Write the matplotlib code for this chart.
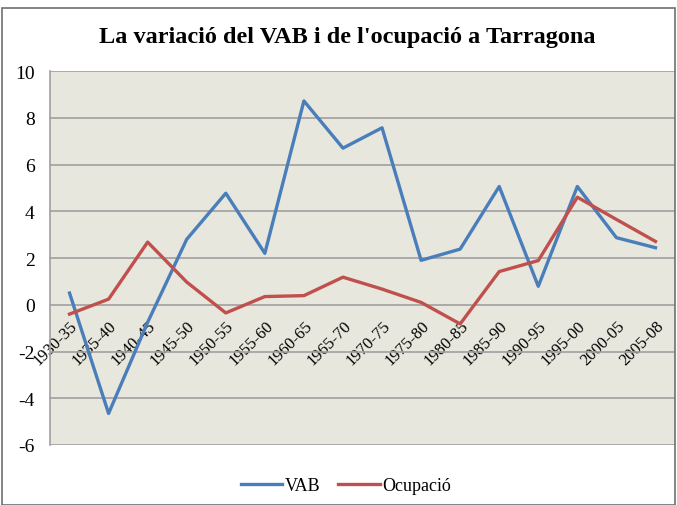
import matplotlib
matplotlib.use("Agg")
import matplotlib.pyplot as plt
from matplotlib.patches import Rectangle

# dades
periodes = ['1930-35', '1935-40', '1940-45', '1945-50', '1950-55', '1955-60',
            '1960-65', '1965-70', '1970-75', '1975-80', '1980-85', '1985-90',
            '1990-95', '1995-00', '2000-05', '2005-08']
vab = [0.5, -4.65, -0.75, 2.8, 4.77, 2.2, 8.72, 6.7, 7.57, 1.9, 2.38, 5.06,
       0.79, 5.06, 2.87, 2.44]
ocupacio = [-0.4, 0.24, 2.68, 0.97, -0.35, 0.35, 0.39, 1.18, 0.67, 0.1, -0.82,
            1.42, 1.89, 4.6, 3.65, 2.71]
yticks = [-6, -4, -2, 0, 2, 4, 6, 8, 10]

plt.rcParams['font.family'] = ['Liberation Serif', 'DejaVu Serif']

fig = plt.figure(figsize=(6.77, 5.06), dpi=100)
ax = fig.add_axes([50 / 677, 1 - 446 / 506, 625 / 677, 374 / 506])
ax.set_facecolor('#E8E7DD')

x = list(range(len(periodes)))
ax.plot(x, vab, color='#4A7EBB', lw=2.4, label='VAB', zorder=3)
ax.plot(x, ocupacio, color='#C0504D', lw=2.4, label='Ocupació', zorder=3)

ax.set_xlim(-0.5, len(periodes) - 0.5)
ax.set_ylim(-6, 10)
ax.set_yticks(yticks)
ax.set_yticklabels([str(v) for v in yticks], fontsize=14)
ax.tick_params(axis='y', length=0, pad=11)
ax.yaxis.grid(True, color='#A0A0A0', lw=1.2)
ax.set_axisbelow(True)

# etiquetes de l'eix x sobre la línia del zero
ax.spines['bottom'].set_position(('data', 0))
ax.spines['bottom'].set_visible(False)
ax.set_xticks(x)
ax.set_xticklabels(periodes, rotation=45, ha='right', rotation_mode='anchor',
                   fontsize=12)
ax.tick_params(axis='x', length=0, pad=9)

for s in ['top', 'right']:
    ax.spines[s].set_visible(False)
ax.spines['left'].set_color('#A0A0A0')
ax.spines['left'].set_linewidth(1.2)

fig.text(347 / 677, 1 - 38 / 506, "La variació del VAB i de l'ocupació a Tarragona",
         ha='center', va='center', fontsize=17.5, fontweight='bold')

fig.legend(loc='center', bbox_to_anchor=(346 / 677, 1 - 487 / 506), ncol=2,
           frameon=False, fontsize=13, handlelength=2.3, handletextpad=0.15,
           columnspacing=1.0)

fig.patches.append(Rectangle((2 / 677, 0), 673 / 677, 1 - 9 / 506,
                             transform=fig.transFigure, fill=False,
                             edgecolor='#707070', lw=1.2))

fig.savefig('out.png', dpi=100)
